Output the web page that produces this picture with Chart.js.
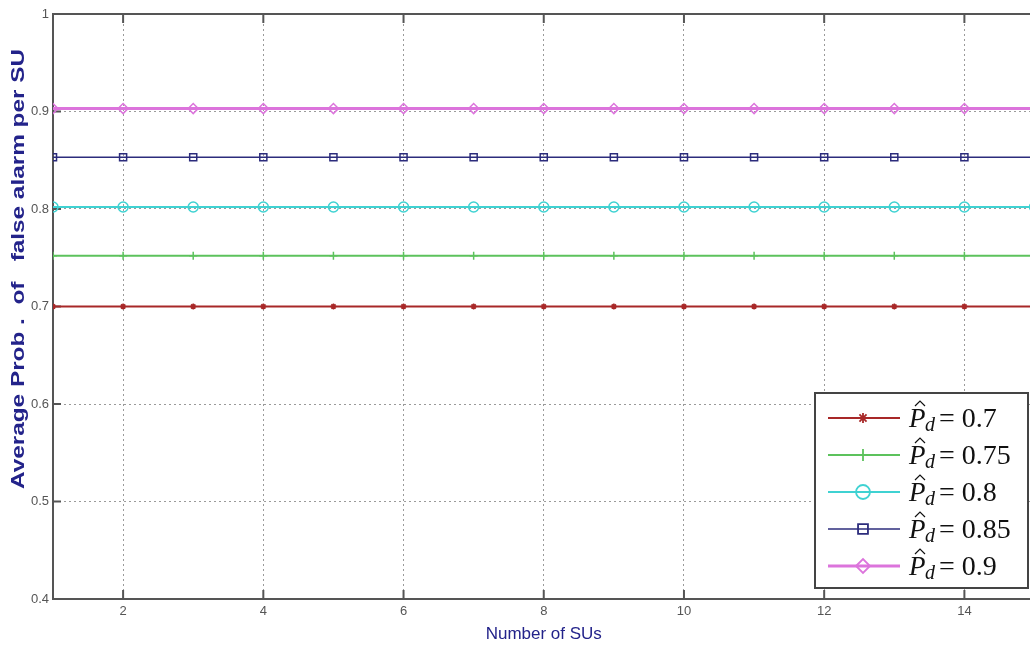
<!DOCTYPE html>
<html lang="en">
<head>
  <meta charset="UTF-8">
  <title>Average Prob. of false alarm per SU</title>
  <script src="https://cdn.jsdelivr.net/npm/chart.js"></script>
  <style>
    html, body { margin: 0; padding: 0; background: #fff; overflow: hidden; }
    /* a bit wider than the window: the right end of the plot is cut off in the original */
    #wrap { width: 1041px; height: 645px; }
  </style>
</head>
<body>
<div id="wrap">
  <canvas id="faChart"></canvas>
</div>

<script>
  // number of secondary users on the x axis
  const suCounts = [1, 2, 3, 4, 5, 6, 7, 8, 9, 10, 11, 12, 13, 14, 15];

  // average false alarm probability per SU, one list per target Pd
  const pd070 = [0.700, 0.700, 0.700, 0.700, 0.700, 0.700, 0.700, 0.700, 0.700, 0.700, 0.700, 0.700, 0.700, 0.700, 0.700];
  const pd075 = [0.752, 0.752, 0.752, 0.752, 0.752, 0.752, 0.752, 0.752, 0.752, 0.752, 0.752, 0.752, 0.752, 0.752, 0.752];
  const pd080 = [0.802, 0.802, 0.802, 0.802, 0.802, 0.802, 0.802, 0.802, 0.802, 0.802, 0.802, 0.802, 0.802, 0.802, 0.802];
  const pd085 = [0.853, 0.853, 0.853, 0.853, 0.853, 0.853, 0.853, 0.853, 0.853, 0.853, 0.853, 0.853, 0.853, 0.853, 0.853];
  const pd090 = [0.903, 0.903, 0.903, 0.903, 0.903, 0.903, 0.903, 0.903, 0.903, 0.903, 0.903, 0.903, 0.903, 0.903, 0.903];

  const legendValues = ['0.7', '0.75', '0.8', '0.85', '0.9'];
  const xTickValues = [2, 4, 6, 8, 10, 12, 14];
  const yTickValues = [0.4, 0.5, 0.6, 0.7, 0.8, 0.9, 1];

  const navy = '#23238a';
  const narrow = '"Liberation Sans Narrow", "Liberation Sans", sans-serif';

  function toPoints(ys) {
    return suCounts.map((x, i) => ({ x: x, y: ys[i] }));
  }

  function series(ys, color, style, radius, width, fillMarker) {
    return {
      data: toPoints(ys),
      borderColor: color,
      backgroundColor: 'rgba(255,255,255,0)',
      borderWidth: width,
      pointStyle: style,
      pointRadius: radius,
      pointBorderColor: color,
      pointBackgroundColor: fillMarker ? color : 'rgba(255,255,255,0)',
      pointBorderWidth: 1.5,
      fill: false,
      tension: 0
    };
  }

  // legend drawn inside the plot, lower right, like the matlab figure
  const boxLegend = {
    id: 'boxLegend',
    afterDatasetsDraw(chart) {
      const ctx = chart.ctx;
      const x0 = 815, y0 = 393, w = 213, h = 195;
      ctx.save();
      ctx.fillStyle = '#fff';
      ctx.fillRect(x0, y0, w, h);
      ctx.strokeStyle = '#444';
      ctx.lineWidth = 2;
      ctx.strokeRect(x0, y0, w, h);

      chart.data.datasets.forEach((ds, i) => {
        const y = 418 + i * 37;
        ctx.strokeStyle = ds.borderColor;
        ctx.lineWidth = ds.borderWidth;
        ctx.beginPath();
        ctx.moveTo(828, y);
        ctx.lineTo(900, y);
        ctx.stroke();

        ctx.lineWidth = 1.8;
        ctx.fillStyle = ds.pointBackgroundColor;
        Chart.helpers.drawPoint(ctx, {
          pointStyle: ds.pointStyle,
          radius: ds.pointRadius + 2,
          rotation: 0,
          borderWidth: 1.8
        }, 863, y);

        // P-hat with subscript d
        ctx.fillStyle = '#111';
        ctx.strokeStyle = '#111';
        ctx.textBaseline = 'alphabetic';
        const base = y + 9;
        ctx.font = 'italic 27px "Liberation Serif", serif';
        ctx.fillText('P', 909, base);
        ctx.lineWidth = 1.2;
        ctx.beginPath();
        ctx.moveTo(915, base - 21);
        ctx.lineTo(920, base - 26);
        ctx.lineTo(925, base - 21);
        ctx.stroke();
        ctx.font = 'italic 20px "Liberation Serif", serif';
        ctx.fillText('d', 925, base + 4);
        ctx.font = '28px "Liberation Serif", serif';
        ctx.fillText('= ' + legendValues[i], 939, base);
      });
      ctx.restore();
    }
  };

  // rotated y title, stretched along its length like the scanned figure
  const yTitle = {
    id: 'yTitle',
    afterDraw(chart) {
      const ctx = chart.ctx;
      const text = 'Average Prob .  of   false alarm per SU';
      ctx.save();
      ctx.font = 'bold 18px "Liberation Sans", Arial, sans-serif';
      const stretch = 440 / ctx.measureText(text).width;
      ctx.translate(19, 269);
      ctx.rotate(-Math.PI / 2);
      ctx.scale(stretch, 1);
      ctx.fillStyle = navy;
      ctx.textAlign = 'center';
      ctx.textBaseline = 'middle';
      ctx.fillText(text, 0, 0);
      ctx.restore();
    }
  };

  // plot frame on top plus inward tick marks
  const frame = {
    id: 'frame',
    beforeDatasetsDraw(chart) {
      const { ctx, chartArea: a, scales } = chart;
      ctx.save();
      ctx.strokeStyle = '#555';
      ctx.lineWidth = 2;
      ctx.beginPath();
      ctx.moveTo(a.left, a.top);
      ctx.lineTo(a.right, a.top);
      ctx.stroke();
      xTickValues.forEach(v => {
        const px = scales.x.getPixelForValue(v);
        ctx.beginPath();
        ctx.moveTo(px, a.bottom); ctx.lineTo(px, a.bottom - 9);
        ctx.moveTo(px, a.top); ctx.lineTo(px, a.top + 9);
        ctx.stroke();
      });
      yTickValues.forEach(v => {
        const py = scales.y.getPixelForValue(v);
        ctx.beginPath();
        ctx.moveTo(a.left, py); ctx.lineTo(a.left + 8, py);
        ctx.stroke();
      });
      ctx.restore();
    }
  };

  const faCtx = document.getElementById('faChart').getContext('2d');

  const faChart = new Chart(faCtx, {
    type: 'line',
    data: {
      datasets: [
        series(pd070, '#a82828', 'star', 3, 2, true),
        series(pd075, '#5cc25c', 'cross', 4, 2, false),
        series(pd080, '#3fd2d2', 'circle', 5, 2, false),
        series(pd085, '#2c2c7c', 'rect', 5, 1.5, false),
        series(pd090, '#dc74dc', 'rectRot', 5, 3, false)
      ]
    },
    options: {
      responsive: true,
      maintainAspectRatio: false,
      animation: false,
      layout: { padding: { top: 14, right: 0, left: 0, bottom: 0 } },
      plugins: {
        legend: { display: false },
        tooltip: { enabled: false }
      },
      scales: {
        x: {
          type: 'linear',
          min: 1,
          max: 15,
          afterBuildTicks: (scale) => { scale.ticks = xTickValues.map(v => ({ value: v })); },
          afterFit: (scale) => { scale.height = 46; },
          grid: { color: '#9a9a9a', lineWidth: 1, drawTicks: false },
          border: { display: true, color: '#555', width: 2, dash: [2, 3] },
          ticks: {
            color: '#555',
            padding: 5,
            font: { family: narrow, size: 13 }
          },
          title: {
            display: true,
            text: 'Number of SUs',
            color: navy,
            padding: { top: 0, bottom: 0 },
            font: { family: narrow, size: 17 }
          }
        },
        y: {
          min: 0.4,
          max: 1,
          afterBuildTicks: (scale) => { scale.ticks = yTickValues.map(v => ({ value: v })); },
          afterFit: (scale) => { scale.width = 53; },
          grid: { color: '#9a9a9a', lineWidth: 1, drawTicks: false },
          border: { display: true, color: '#555', width: 2, dash: [2, 3] },
          ticks: {
            color: '#555',
            padding: 4,
            callback: (v) => String(v),
            font: { family: narrow, size: 13 }
          }
        }
      }
    },
    plugins: [frame, boxLegend, yTitle]
  });
</script>
</body>
</html>
